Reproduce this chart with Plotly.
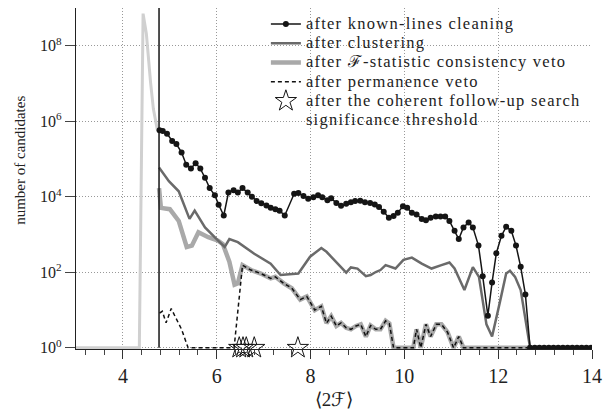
import plotly.graph_objects as go

# ---------------- data ----------------
threshold_2F = 4.77

# all candidates (light grey, no legend entry)
all_x = [3.0, 4.35, 4.43, 4.50, 4.59, 4.65, 4.73, 4.77]
all_y = [1, 1, 7.1e8, 2.1e8, 1.05e7, 2.1e6, 6.3e5, 5.8e5]

# after known-lines cleaning
kl_x = [4.78, 4.85, 4.94, 5.05, 5.14, 5.25, 5.35, 5.45, 5.55, 5.65,
        5.75, 5.85, 5.96, 6.04, 6.15, 6.25, 6.36, 6.45, 6.55, 6.66,
        6.75, 6.85, 6.95, 7.06, 7.15, 7.25, 7.34, 7.45, 7.65, 7.74,
        7.85, 7.95, 8.06, 8.16, 8.25, 8.36, 8.44, 8.55, 8.65, 8.76,
        8.86, 8.95, 9.06, 9.16, 9.27, 9.37, 9.46, 9.56, 9.67, 9.77,
        9.86, 9.97, 10.06, 10.16, 10.26, 10.37, 10.46, 10.56, 10.67, 10.77,
        10.87, 10.96, 11.07, 11.16, 11.26, 11.37, 11.46, 11.58, 11.67, 11.78,
        11.87, 11.96, 12.07, 12.17, 12.28, 12.38, 12.48, 12.58, 12.68,
        12.78, 12.88, 12.98, 13.08, 13.18, 13.28, 13.38, 13.48, 13.58, 13.68,
        13.78, 13.88, 13.98]
kl_y = [5.8e5, 5.5e5, 4.7e5, 3.0e5, 2.5e5, 1.5e5, 7.1e4, 5.6e4, 7.8e4, 5.6e4,
        3.2e4, 1.7e4, 1.1e4, 6.2e3, 3.2e3, 1.3e4, 1.5e4, 1.3e4, 1.7e4, 1.3e4,
        1.0e4, 7.8e3, 6.8e3, 5.9e3, 5.1e3, 4.7e3, 4.3e3, 3.2e3, 1.2e4, 1.26e4,
        1.05e4, 8.9e3, 9.8e3, 1.1e4, 9.8e3, 8.1e3, 9.1e3, 6.9e3, 5.8e3, 6.6e3,
        7.2e3, 7.8e3, 7.9e3, 7.2e3, 6.9e3, 6.3e3, 5.4e3, 4.0e3, 2.8e3, 3.1e3,
        3.8e3, 5.6e3, 5.1e3, 3.8e3, 3.4e3, 2.6e3, 2.4e3, 2.8e3, 3.0e3, 3.0e3,
        3.0e3, 2.3e3, 1.26e3, 7.6e2, 1.55e3, 2.1e3, 1.55e3, 5.1e2, 79, 7.1,
        54, 3.2e2, 9.3e2, 1.6e3, 1.26e3, 5.1e2, 1.4e2, 26, 1,
        1, 1, 1, 1, 1, 1, 1, 1, 1, 1,
        1, 1, 1]

# after clustering
cl_x = [4.77, 4.98, 5.19, 5.42, 5.53, 5.75, 6.03, 6.17, 6.27, 6.45,
        6.80, 7.15, 7.36, 7.74, 7.99, 8.23, 8.34, 8.55, 8.76, 8.86,
        9.00, 9.18, 9.28, 9.39, 9.49, 9.60, 9.81, 9.98, 10.16, 10.37,
        10.58, 10.79, 10.96, 11.07, 11.28, 11.46, 11.59, 11.75, 11.87, 12.04,
        12.17, 12.25, 12.36, 12.48, 12.68, 14.0]
cl_y = [6.0e4, 2.6e4, 1.4e4, 2.6e3, 4.3e3, 1.55e3, 690, 470, 760, 630,
        310, 170, 85, 93, 260, 440, 350, 190, 98, 135,
        126, 79, 85, 102, 115, 155, 126, 214, 245, 170,
        126, 155, 182, 126, 34, 138, 76, 4.2, 2.0, 17,
        93, 110, 76, 34, 1, 1]

# after F-statistic consistency veto
fv_x = [4.77, 4.81, 5.00, 5.19, 5.36, 5.47, 5.61, 5.82, 6.03, 6.13,
        6.27, 6.38, 6.45, 6.55, 6.73, 6.94, 7.15, 7.25, 7.43, 7.60,
        7.78, 7.92, 8.09, 8.23, 8.34, 8.44, 8.55, 8.65, 8.76, 8.86,
        8.97, 9.07, 9.18, 9.28, 9.39, 9.49, 9.60, 9.68, 9.77, 10.19,
        10.26, 10.35, 10.46, 10.56, 10.68, 10.79, 10.92, 11.05, 11.16, 11.26,
        14.0]
fv_y = [1.7e4, 5.1e3, 4.7e3, 2.3e3, 470, 510, 1.15e3, 850, 690, 560,
        190, 47, 51, 155, 115, 93, 69, 76, 51, 38,
        19, 23, 10, 12.6, 4.5, 6.9, 3.8, 4.6, 3.4, 3.1,
        3.8, 4.2, 2.0, 3.9, 3.1, 3.1, 5.2, 4.4, 1, 1,
        3.1, 1, 4.2, 2.0, 4.2, 4.2, 2.6, 1, 2.0, 1,
        1]

# after permanence veto
pv_x = [4.78, 4.84, 4.92, 5.03, 5.11, 5.25, 5.39, 6.37,
        6.55, 6.73, 6.94, 7.15, 7.25, 7.43, 7.60,
        7.78, 7.92, 8.09, 8.23, 8.34, 8.44, 8.55, 8.65, 8.76, 8.86,
        8.97, 9.07, 9.18, 9.28, 9.39, 9.49, 9.60, 9.68, 9.77, 10.19,
        10.26, 10.35, 10.46, 10.56, 10.68, 10.79, 10.92, 11.05, 11.16, 11.26,
        14.0]
pv_y = [8.3, 9.3, 4.6, 11, 6.9, 3.1, 1, 1,
        155, 115, 93, 69, 76, 51, 38,
        19, 23, 10, 12.6, 4.5, 6.9, 3.8, 4.6, 3.4, 3.1,
        3.8, 4.2, 2.0, 3.9, 3.1, 3.1, 5.2, 4.4, 1, 1,
        3.1, 1, 4.2, 2.0, 4.2, 4.2, 2.6, 1, 2.0, 1,
        1]

# after the coherent follow-up search
fu_x = [6.48, 6.56, 6.63, 6.80, 7.73]
fu_y = [1, 1, 1, 1, 1]

legend_names = ["after known-lines cleaning",
                "after clustering",
                "after ℱ-statistic consistency veto",
                "after permanence veto",
                "after the coherent follow-up search",
                "significance threshold"]

y_tickvals = [1, 1e2, 1e4, 1e6, 1e8]
y_ticktext = ["10<sup>0</sup>", "10<sup>2</sup>", "10<sup>4</sup>",
              "10<sup>6</sup>", "10<sup>8</sup>"]
x_tickvals = [4, 6, 8, 10, 12, 14]

# ---------------- figure ----------------
FONT = "Liberation Serif"


def lg(s):
    return '<span style="font-size:16.5px;letter-spacing:1.25px">' + s + "</span>"


fig = go.Figure()

fig.add_trace(go.Scatter(x=all_x, y=all_y, mode="lines",
                         line=dict(color="#d0d0d0", width=3),
                         showlegend=False, hoverinfo="skip"))
fig.add_trace(go.Scatter(x=fv_x, y=fv_y, mode="lines",
                         name=lg(legend_names[2]),
                         line=dict(color="#a9a9a9", width=4.5),
                         legendrank=3))
fig.add_trace(go.Scatter(x=pv_x, y=pv_y, mode="lines",
                         name=lg(legend_names[3]),
                         line=dict(color="#111111", width=1.5, dash="4px,3px"),
                         legendrank=4))
fig.add_trace(go.Scatter(x=cl_x, y=cl_y, mode="lines",
                         name=lg(legend_names[1]),
                         line=dict(color="#6a6a6a", width=2.5),
                         legendrank=2))
fig.add_trace(go.Scatter(x=kl_x, y=kl_y, mode="lines+markers",
                         name=lg(legend_names[0]),
                         line=dict(color="#151515", width=1.5),
                         marker=dict(color="#151515", size=6),
                         legendrank=1))
fig.add_trace(go.Scatter(x=[threshold_2F, threshold_2F], y=[1, 1e9], mode="lines",
                         line=dict(color="#151515", width=1.5),
                         showlegend=False, hoverinfo="skip"))
fig.add_trace(go.Scatter(x=fu_x, y=fu_y, mode="markers",
                         name=lg(legend_names[4]),
                         marker=dict(symbol="star-open", size=16, color="#151515",
                                     line=dict(width=1)),
                         cliponaxis=False, legendrank=5))
fig.add_trace(go.Scatter(x=[None], y=[None], mode="lines",
                         name=lg(legend_names[5]),
                         line=dict(color="rgba(0,0,0,0)", width=0),
                         legendrank=6))

fig.add_annotation(text="number of candidates", xref="paper", yref="paper",
                   x=-0.109, y=0.554, xanchor="center", yanchor="middle",
                   textangle=-90, showarrow=False,
                   font=dict(family=FONT, size=15, color="#222222"))

fig.update_layout(
    width=610, height=414,
    margin=dict(l=76, r=10, t=8, b=61),
    paper_bgcolor="white", plot_bgcolor="white",
    font=dict(family=FONT, color="#222222", size=16),
    legend=dict(x=0.368, y=0.996, xanchor="left", yanchor="top",
                bgcolor="rgba(0,0,0,0)", font=dict(family=FONT, size=12.5),
                tracegroupgap=0),
    xaxis=dict(range=[3, 14], showline=True, linecolor="#222222", linewidth=1.2,
               ticks="outside", ticklen=9, tickwidth=1.2, tickcolor="#333333",
               tickvals=x_tickvals, ticktext=[str(v) for v in x_tickvals],
               tickfont=dict(size=20),
               minor=dict(dtick=0.4, tick0=0, ticks="outside", ticklen=5,
                          tickcolor="#444444", showgrid=False),
               showgrid=True, gridcolor="#999999", gridwidth=1, griddash="1px,2px",
               zeroline=False, mirror=False,
               title=dict(text="⟨2ℱ⟩", font=dict(size=19), standoff=6)),
    yaxis=dict(type="log", range=[-0.03, 9.0], showline=True, linecolor="#222222",
               linewidth=1.2, ticks="outside", ticklen=10, tickwidth=1.2,
               tickcolor="#444444",
               tickvals=y_tickvals, ticktext=y_ticktext, tickfont=dict(size=16),
               showgrid=True, gridcolor="#999999", gridwidth=1, griddash="1px,2px",
               zeroline=False, mirror=False),
)

fig.write_html("out.html")
